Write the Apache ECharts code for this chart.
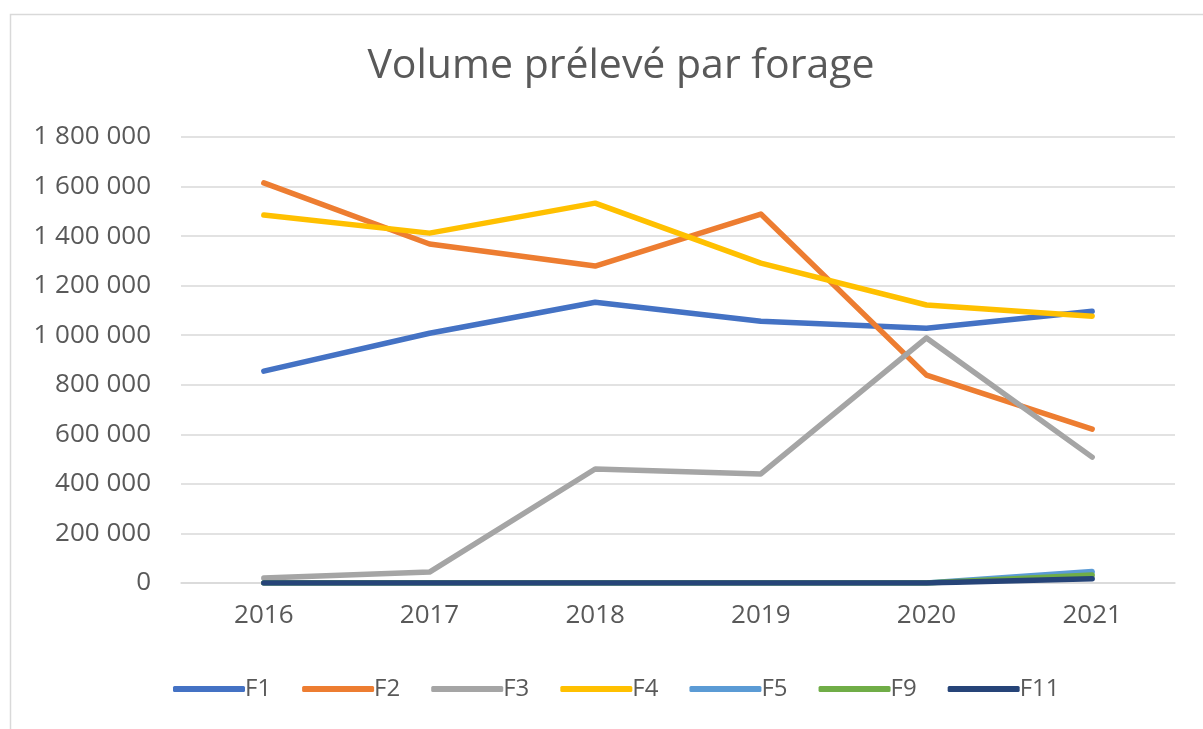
<!DOCTYPE html>
<html lang="fr">
<head>
	<meta charset="UTF-8">
	<title>Volume prélevé par forage</title>
	<script src="https://cdn.jsdelivr.net/npm/echarts@6/dist/echarts.min.js"></script>
	<style>
		body{margin:0;background:#fff;}
	</style>
</head>
<body>
	<div id="app" style="width: 1203px;height:729px"></div>

	<script>
		var annees=["2016","2017","2018","2019","2020","2021"];
		var f1=[855000, 1008000, 1133000, 1056000, 1028000, 1097000];
		var f2=[1615000, 1368000, 1279000, 1489000, 839000, 621000];
		var f3=[20000, 44000, 460000, 440000, 989000, 508000];
		var f4=[1485000, 1412000, 1533000, 1291000, 1122000, 1077000];
		var f5=[0, 0, 0, 0, 0, 46000];
		var f9=[0, 0, 0, 0, 0, 32000];
		var f11=[0, 0, 0, 0, 0, 17000];
		var couleurs=["#4472C4","#ED7D31","#A5A5A5","#FFC000","#5B9BD5","#70AD47","#264478"];

		var police="Open Sans";
		var gris="#595959";

		function serie(nom, data, couleur){
			return {
				name:nom,
				type:"line",
				data:data,
				symbol:"none",
				color:couleur,
				lineStyle:{width:5.5, color:couleur, cap:"round", join:"round"}
			};
		}

		var myChart=echarts.init(document.getElementById('app'));
		var option={
			animation:false,
			title:{
				text:"Volume prélevé par forage",
				left:616,
				textAlign:"center",
				top:41,
				textStyle:{fontFamily:police, fontSize:41, fontWeight:"normal", color:gris}
			},
			graphic:[{//cadre du graphique
				type:"rect",
				silent:true,
				shape:{x:10.5, y:14.5, width:1240, height:740},
				style:{fill:"none", stroke:"#d9d9d9", lineWidth:1.5}
			}],
			legend:{
				left:168,
				top:672,
				itemWidth:72,
				itemHeight:6,
				itemGap:31,
				icon:"roundRect",
				textStyle:{fontFamily:police, fontSize:24, color:gris, padding:[0,0,0,-5]},
				data:["F1","F2","F3","F4","F5","F9","F11"]
			},
			grid:{left:181, right:28, top:137, bottom:146},
			xAxis:{
				type:"category",
				data:annees,
				axisLine:{lineStyle:{color:"#d9d9d9", width:1.5}},
				axisTick:{show:false},
				axisLabel:{fontFamily:police, fontSize:26, color:gris, margin:20}
			},
			yAxis:{
				type:"value",
				min:0,
				max:1800000,
				interval:200000,
				axisLine:{show:false},
				axisTick:{show:false},
				splitLine:{lineStyle:{color:"#d9d9d9", width:1.5}},
				axisLabel:{
					fontFamily:police, fontSize:26, color:gris, margin:30,
					formatter:function(v){return String(v).replace(/\B(?=(\d{3})+(?!\d))/g," ");}
				}
			},
			series:[
				serie("F1", f1, couleurs[0]),
				serie("F2", f2, couleurs[1]),
				serie("F3", f3, couleurs[2]),
				serie("F4", f4, couleurs[3]),
				serie("F5", f5, couleurs[4]),
				serie("F9", f9, couleurs[5]),
				serie("F11", f11, couleurs[6])
			]
		};
		myChart.setOption(option);
	</script>
</body>
</html>
